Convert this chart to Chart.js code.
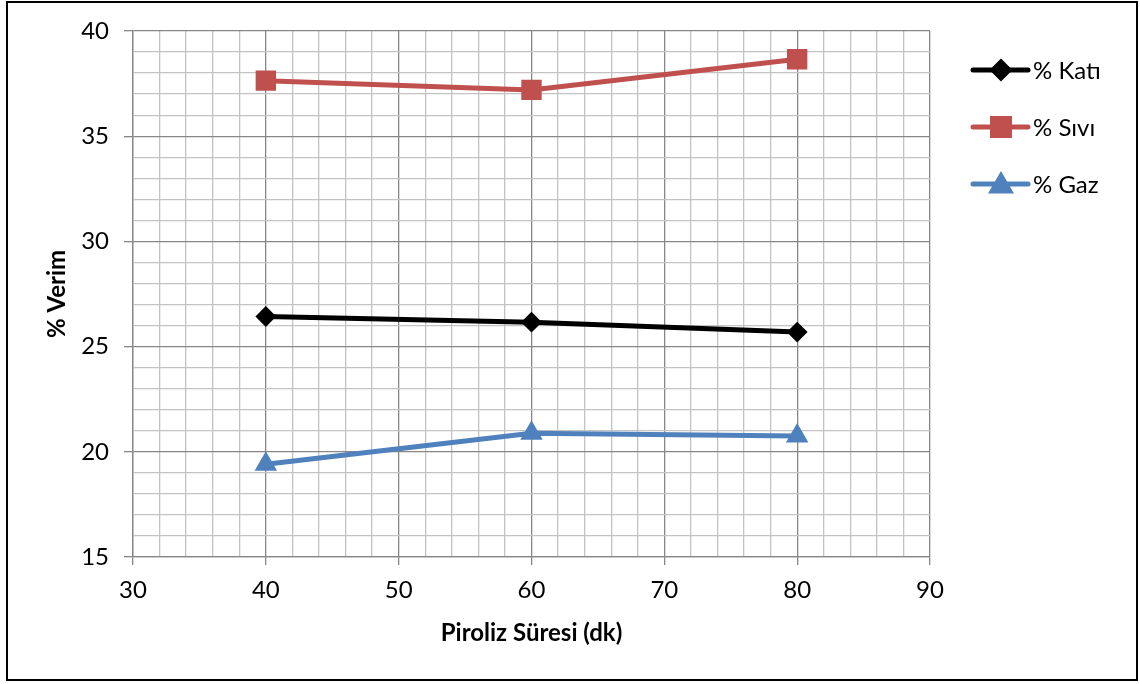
<!DOCTYPE html>
<html>
<head>
<meta charset="utf-8">
<script src="https://cdn.jsdelivr.net/npm/chart.js@4.4.1/dist/chart.umd.min.js"></script>
<style>
  html, body { margin: 0; padding: 0; background: #fff; }
  #wrap { width: 1140px; height: 684px; }
</style>
</head>
<body>
<div id="wrap"><canvas id="myChart" width="1140" height="684"></canvas></div>
<script>
// Piroliz verim verileri (dakika -> %)
const sureler = [40, 60, 80]
const kati = [26.43, 26.16, 25.69]
const sivi = [37.64, 37.2, 38.66]
const gaz = [19.41, 20.88, 20.75]
const xLabels = [30, 40, 50, 60, 70, 80, 90]
const yLabels = [15, 20, 25, 30, 35, 40]

const FONT = 'Lato'
const MAJOR = '#878787'
const MINOR = '#c3c3c3'

const toPoints = (vals) => sureler.map((s, i) => ({ x: s, y: vals[i] }))

// legend on the right: line with marker, then label
const sideLegend = {
  id: 'sideLegend',
  afterDraw(chart) {
    const ctx = chart.ctx
    const x0 = chart.chartArea.right + 43
    chart.data.datasets.forEach((ds, i) => {
      const y = 70 + i * 57
      ctx.save()
      ctx.strokeStyle = ds.borderColor
      ctx.fillStyle = ds.borderColor
      ctx.lineWidth = 5
      ctx.lineCap = 'round'
      ctx.beginPath()
      ctx.moveTo(x0, y)
      ctx.lineTo(x0 + 55, y)
      ctx.stroke()
      Chart.helpers.drawPoint(ctx, {
        pointStyle: ds.pointStyle,
        radius: ds.pointRadius - 1,
        rotation: 0,
        borderWidth: 2
      }, x0 + 28, ds.pointStyle === 'triangle' ? y + 2 : y)
      ctx.fillStyle = '#000'
      ctx.font = '24px ' + FONT
      ctx.textBaseline = 'middle'
      ctx.fillText(ds.label, x0 + 60, y + 1)
      ctx.restore()
    })
  }
}

// white background and outer frame
const frame = {
  id: 'frame',
  beforeDraw(chart) {
    const ctx = chart.ctx
    ctx.save()
    ctx.fillStyle = '#fff'
    ctx.fillRect(0, 0, chart.width, chart.height)
    ctx.restore()
  },
  afterDraw(chart) {
    const ctx = chart.ctx
    ctx.save()
    ctx.strokeStyle = '#000'
    ctx.lineWidth = 2
    ctx.strokeRect(7, 2, 1130, 678)
    ctx.restore()
  }
}

const ctx = document.getElementById('myChart')
// eslint-disable-next-line no-unused-vars
const myChart = new Chart(ctx, {
  type: 'line',
  data: {
    datasets: [{
      label: '% Katı',
      data: toPoints(kati),
      borderColor: '#000000',
      backgroundColor: '#000000',
      pointStyle: 'rectRot',
      pointRadius: 9,
      pointBorderWidth: 2
    }, {
      label: '% Sıvı',
      data: toPoints(sivi),
      borderColor: '#c0504d',
      backgroundColor: '#c0504d',
      pointStyle: 'rect',
      pointRadius: 13,
      pointBorderWidth: 2
    }, {
      label: '% Gaz',
      data: toPoints(gaz),
      borderColor: '#4f81bd',
      backgroundColor: '#4f81bd',
      pointStyle: 'triangle',
      pointRadius: 11,
      pointBorderWidth: 2
    }]
  },
  options: {
    responsive: false,
    animation: false,
    devicePixelRatio: 1,
    layout: { padding: { left: 8, right: 210, top: 31, bottom: 20 } },
    elements: {
      line: { tension: 0, borderWidth: 5, fill: false }
    },
    scales: {
      x: {
        type: 'linear',
        min: 30,
        max: 90,
        afterFit: (s) => { s.height = 107 },
        ticks: {
          stepSize: 2,
          autoSkip: false,
          maxRotation: 0,
          padding: 11,
          color: '#000',
          font: { family: FONT, size: 24 },
          callback: (v) => xLabels.includes(v) ? String(v) : ''
        },
        grid: {
          color: (c) => c.tick && c.tick.value % 10 === 0 ? MAJOR : MINOR,
          tickColor: (c) => c.tick && xLabels.includes(c.tick.value) ? MAJOR : 'transparent',
          tickLength: 8,
          lineWidth: 1.3
        },
        border: { color: MAJOR, width: 1.3 },
        title: {
          display: true,
          text: 'Piroliz Süresi (dk)',
          color: '#000',
          font: { family: FONT, size: 24, weight: 'bold' },
          padding: { top: 0, bottom: 16 }
        }
      },
      y: {
        min: 15,
        max: 40,
        afterFit: (s) => { s.width = 125 },
        ticks: {
          stepSize: 1,
          autoSkip: false,
          padding: 15,
          color: '#000',
          font: { family: FONT, size: 24 },
          callback: (v) => yLabels.includes(v) ? String(v) : ''
        },
        grid: {
          color: (c) => c.tick && c.tick.value % 5 === 0 ? MAJOR : MINOR,
          tickColor: (c) => c.tick && yLabels.includes(c.tick.value) ? MAJOR : 'transparent',
          tickLength: 9,
          lineWidth: 1.3
        },
        border: { color: MAJOR, width: 1.3 },
        title: {
          display: true,
          text: '% Verim',
          color: '#000',
          font: { family: FONT, size: 24, weight: 'bold' },
          padding: { top: 35, bottom: 0 }
        }
      }
    },
    plugins: {
      legend: { display: false },
      tooltip: { enabled: false }
    }
  },
  plugins: [frame, sideLegend]
})
</script>
</body>
</html>
